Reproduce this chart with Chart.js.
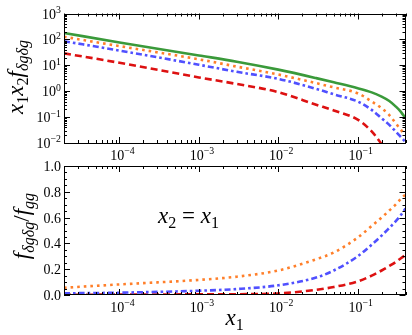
<!DOCTYPE html>
<html>
<head>
<meta charset="utf-8" />
<title>x1 x2 f dgdg</title>
<script src="https://cdn.jsdelivr.net/npm/chart.js@4.4.1/dist/chart.umd.min.js"></script>
<style>
  body { margin: 0; background: #fff; }
  #wrap { position: relative; width: 412px; height: 335px; }
  canvas { position: absolute; left: 0; }
</style>
</head>
<body>
<div id="wrap">
  <canvas id="top" width="412" height="160" style="top:0px"></canvas>
  <canvas id="bot" width="412" height="175" style="top:160px"></canvas>
</div>
<script>
// x values
var xVals = [2e-5, 1e-4, 1e-3, 3e-3, 1e-2, 3e-2, 5e-2, 0.1, 0.15, 0.2, 0.25, 0.3, 0.35, 0.4];

// top panel: x1 x2 f_dgdg
var topGreen  = [178, 76, 24, 13.8, 6.8, 3.2, 2.2, 1.3, 0.9, 0.62, 0.42, 0.26, 0.16, 0.09];
var topOrange = [126, 55, 17, 8.9, 4.4, 2.05, 1.4, 0.83, 0.4, 0.22, 0.12, 0.059, 0.032, 0.021];
var topBlue   = [85, 37, 10.5, 5.6, 3.0, 1.23, 0.76, 0.4, 0.19, 0.09, 0.05, 0.028, 0.017, 0.011];
var topRed    = [29, 12.5, 3.4, 1.9, 0.92, 0.3, 0.18, 0.08, 0.028, 0.009, 0.003, null, null, null];

// bottom panel: f_dgdg / f_gg
var botOrange = [0.056, 0.082, 0.117, 0.142, 0.19, 0.277, 0.33, 0.445, 0.535, 0.60, 0.655, 0.70, 0.745, 0.78];
var botBlue   = [0.013, 0.018, 0.033, 0.046, 0.075, 0.135, 0.19, 0.30, 0.39, 0.46, 0.52, 0.57, 0.62, 0.67];
var botRed    = [0.002, 0.003, 0.005, 0.006, 0.012, 0.04, 0.062, 0.105, 0.15, 0.19, 0.225, 0.255, 0.285, 0.31];

// tick labels
var xTickVals = [1e-4, 1e-3, 1e-2, 1e-1];
var xTickExp  = ['\u22124', '\u22123', '\u22122', '\u22121'];
var topYTickVals = [1e-2, 1e-1, 1, 10, 100, 1000];
var topYTickExp  = ['\u22122', '\u22121', '0', '1', '2', '3'];
var botYTickVals = [0, 0.2, 0.4, 0.6, 0.8, 1.0];
var botYTickLabels = ['0.0', '0.2', '0.4', '0.6', '0.8', '1.0'];

var GREEN = '#3a9a3a', ORANGE = '#ff7f2a', BLUE = '#5050ff', RED = '#dd1111';
var SERIF = "'Liberation Serif', 'DejaVu Serif', serif";

function pts(arr) {
  return xVals.map(function (x, i) { return { x: x, y: arr[i] }; });
}
function ds(arr, color, dash) {
  return {
    data: pts(arr), borderColor: color, borderWidth: 2.6, borderDash: dash,
    pointRadius: 0, fill: false, cubicInterpolationMode: 'monotone', clip: 0
  };
}

function logTicks(min, max) {
  var major = [], minor = [];
  for (var e = Math.floor(Math.log10(min)); e <= Math.ceil(Math.log10(max)); e++) {
    for (var m = 1; m < 10; m++) {
      var v = m * Math.pow(10, e);
      if (v < min * 0.999 || v > max * 1.001) continue;
      (m === 1 ? major : minor).push(v);
    }
  }
  return { major: major, minor: minor };
}

// draw a row of pieces: [text, level, italic]; level 0 normal, -1 sub, 1 sup
function mathWidth(ctx, parts, size) {
  var w = 0;
  parts.forEach(function (p) {
    var s = p[1] === 0 ? size : size * 0.7;
    ctx.font = (p[2] ? 'italic ' : '') + s + 'px ' + SERIF;
    w += ctx.measureText(p[0]).width;
  });
  return w;
}
function drawMath(ctx, parts, x, y, size, align) {
  var w = mathWidth(ctx, parts, size);
  if (align === 'center') x -= w / 2;
  if (align === 'right') x -= w;
  ctx.textAlign = 'left';
  ctx.textBaseline = 'alphabetic';
  parts.forEach(function (p) {
    var s = p[1] === 0 ? size : size * 0.7;
    ctx.font = (p[2] ? 'italic ' : '') + s + 'px ' + SERIF;
    var dy = p[1] === -1 ? size * 0.22 : (p[1] === 1 ? -size * 0.4 : 0);
    ctx.fillText(p[0], x, y + dy);
    x += ctx.measureText(p[0]).width;
  });
}

function pow10(e) { return [['10', 0, false], [e, 1, false]]; }

// frame, inward ticks on all sides, tick labels and titles
var axesPlugin = {
  id: 'axesPlugin',
  afterDraw: function (chart) {
    var o = chart.options.plugins.axesPlugin;
    var ctx = chart.ctx, a = chart.chartArea, sx = chart.scales.x, sy = chart.scales.y;
    ctx.save();
    ctx.strokeStyle = '#000';
    ctx.fillStyle = '#000';
    ctx.lineWidth = 1;
    ctx.strokeRect(Math.round(a.left) + 0.5, Math.round(a.top) + 0.5,
                   Math.round(a.right - a.left) - 1, Math.round(a.bottom - a.top) - 1);

    function vtick(v, len) {
      var px = Math.round(sx.getPixelForValue(v)) + 0.5;
      ctx.beginPath();
      ctx.moveTo(px, a.bottom); ctx.lineTo(px, a.bottom - len);
      ctx.moveTo(px, a.top); ctx.lineTo(px, a.top + len);
      ctx.stroke();
    }
    function htick(v, len) {
      var py = Math.round(sy.getPixelForValue(v)) + 0.5;
      ctx.beginPath();
      ctx.moveTo(a.left, py); ctx.lineTo(a.left + len, py);
      ctx.moveTo(a.right, py); ctx.lineTo(a.right - len, py);
      ctx.stroke();
    }
    var xt = logTicks(sx.min, sx.max);
    xt.major.forEach(function (v) { vtick(v, 6); });
    xt.minor.forEach(function (v) { vtick(v, 3); });
    if (o.logY) {
      var yt = logTicks(sy.min, sy.max);
      yt.major.forEach(function (v) { htick(v, 6); });
      yt.minor.forEach(function (v) { htick(v, 3); });
    } else {
      for (var k = 0; k <= 20; k++) htick(k * 0.05, k % 4 === 0 ? 6 : 3);
    }

    // x tick labels
    xTickVals.forEach(function (v, i) {
      drawMath(ctx, pow10(xTickExp[i]), sx.getPixelForValue(v) + 3, a.bottom + 17, 14, 'center');
    });
    // y tick labels
    if (o.logY) {
      topYTickVals.forEach(function (v, i) {
        drawMath(ctx, pow10(topYTickExp[i]), a.left - 3, sy.getPixelForValue(v) + 5, 14, 'right');
      });
    } else {
      botYTickVals.forEach(function (v, i) {
        drawMath(ctx, [[botYTickLabels[i], 0, false]], a.left - 3, sy.getPixelForValue(v) + 5, 14, 'right');
      });
    }

    // y title
    ctx.save();
    ctx.translate(o.yTitleX, o.yTitleY);
    ctx.rotate(-Math.PI / 2);
    drawMath(ctx, o.yTitle, 0, 0, 23, 'center');
    ctx.restore();

    if (o.xTitle) drawMath(ctx, o.xTitle, (a.left + a.right) / 2, a.bottom + 30, 23, 'center');
    if (o.note) drawMath(ctx, o.note, o.noteX, o.noteY, 23, 'left');
    ctx.restore();
  }
};

function makeChart(id, datasets, yScale, pad, plug) {
  return new Chart(document.getElementById(id), {
    type: 'line',
    data: { datasets: datasets },
    options: {
      responsive: false,
      animation: false,
      devicePixelRatio: 1,
      layout: { padding: pad },
      scales: {
        x: { type: 'logarithmic', min: 2e-5, max: 0.4, display: false },
        y: yScale
      },
      plugins: { legend: { display: false }, tooltip: { enabled: false }, axesPlugin: plug }
    },
    plugins: [axesPlugin]
  });
}

makeChart('top', [
  ds(topGreen, GREEN, []),
  ds(topOrange, ORANGE, [2.6, 4]),
  ds(topBlue, BLUE, [6, 3, 2.6, 3]),
  ds(topRed, RED, [7, 4])
], { type: 'logarithmic', min: 1e-2, max: 1e3, display: false },
{ left: 64, right: 6.5, top: 13.5, bottom: 17 },
{
  logY: true, yTitleX: 23, yTitleY: 77,
  yTitle: [['x', 0, true], ['1', -1, false], ['x', 0, true], ['2', -1, false],
           ['f', 0, true], ['\u03b4g\u03b4g', -1, true]]
});

makeChart('bot', [
  ds(botOrange, ORANGE, [2.6, 4]),
  ds(botBlue, BLUE, [6, 3, 2.6, 3]),
  ds(botRed, RED, [7, 4])
], { type: 'linear', min: 0, max: 1, display: false },
{ left: 64, right: 6.5, top: 6, bottom: 40 },
{
  logY: false, yTitleX: 29, yTitleY: 66,
  yTitle: [['f', 0, true], ['\u03b4g\u03b4g', -1, true], ['/', 0, false],
           ['f', 0, true], ['gg', -1, true]],
  xTitle: [['x', 0, true], ['1', -1, false]],
  note: [['x', 0, true], ['2', -1, false], [' = ', 0, false], ['x', 0, true], ['1', -1, false]],
  noteX: 158, noteY: 63
});
</script>
</body>
</html>
